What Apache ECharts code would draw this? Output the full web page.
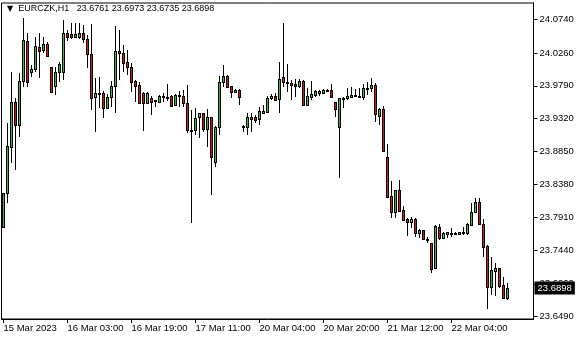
<!DOCTYPE html>
<html><head><meta charset="utf-8">
<script src="https://cdn.jsdelivr.net/npm/echarts@6/dist/echarts.min.js"></script>
<style>html,body{margin:0;padding:0;background:#fff}#c{width:580px;height:340px}</style>
</head><body><div id="c"></div>
<script>
const symbolName = 'EURCZK,H1';
const xTickLabels = ['15 Mar 2023','16 Mar 03:00','16 Mar 19:00','17 Mar 11:00','20 Mar 04:00','20 Mar 20:00','21 Mar 12:00','22 Mar 04:00'];
const yTickValues = [24.0740, 24.0260, 23.9790, 23.9320, 23.8850, 23.8380, 23.7910, 23.7440, 23.6960, 23.6490];
const yMin = 23.6457;
const yMax = 24.0973;
const emptySlots = 6;

const opens = [23.7776,23.8254,23.8920,23.9563,23.9230,23.9858,24.0430,23.9983,24.0026,24.0340,
24.0301,24.0383,24.0054,23.9791,23.9983,23.9991,24.0549,24.0530,24.0492,24.0492,
24.0540,24.0454,24.0240,23.9626,23.9687,23.9683,23.9477,23.9634,23.9791,24.0287,
24.0254,24.0126,24.0054,23.9863,23.9801,23.9691,23.9540,23.9611,23.9577,23.9563,
23.9634,23.9630,23.9644,23.9515,23.9644,23.9644,23.9540,23.9163,23.9158,23.9340,
23.9397,23.9168,23.9340,23.8705,23.9197,23.9848,23.9930,23.9787,23.9706,23.9730,
23.9215,23.9205,23.9311,23.9348,23.9311,23.9405,23.9420,23.9611,23.9644,23.9597,
23.9911,23.9848,23.9834,23.9816,23.9787,23.9863,23.9520,23.9634,23.9658,23.9683,
23.9683,23.9730,23.9730,23.9554,23.9197,23.9597,23.9611,23.9634,23.9648,23.9648,
23.9634,23.9754,23.9754,23.9801,23.9363,23.9458,23.8777,23.8215,23.7991,23.8301,
23.8015,23.7886,23.7848,23.7886,23.7691,23.7729,23.7605,23.7539,23.7182,23.7776,
23.7619,23.7672,23.7672,23.7682,23.7672,23.7682,23.7682,23.7800,23.7991,23.8125,
23.7811,23.7500,23.6919,23.7147,23.7182,23.6943,23.6761];
const highs = [23.8258,23.9254,23.9991,23.9611,23.9969,24.0755,24.0549,24.0087,24.0492,24.0540,
24.0492,24.0420,24.0063,24.0063,24.0134,24.0730,24.0587,24.0692,24.0692,24.0683,
24.0659,24.0516,24.0673,23.9897,23.9920,23.9720,23.9673,23.9863,24.0644,24.0587,
24.0373,24.0301,24.0111,23.9873,23.9848,23.9706,23.9706,23.9644,23.9587,23.9658,
23.9683,23.9816,23.9658,23.9673,23.9720,23.9730,23.9801,23.9444,23.9468,23.9405,
23.9405,23.9458,23.9348,23.9215,23.9930,24.0087,23.9940,23.9787,23.9748,23.9740,
23.9230,23.9397,23.9397,23.9373,23.9491,23.9515,23.9644,23.9673,23.9683,24.0134,
24.0683,24.0101,23.9873,23.9883,23.9891,23.9873,23.9754,23.9863,23.9730,23.9730,
23.9740,23.9740,23.9816,23.9563,23.9620,23.9626,23.9754,23.9777,23.9740,23.9754,
23.9816,23.9848,23.9897,23.9826,23.9468,23.9501,23.8958,23.8429,23.8301,23.8444,
23.8072,23.7896,23.7911,23.7896,23.7739,23.7729,23.7625,23.7539,23.7800,23.7811,
23.7705,23.7705,23.7753,23.7705,23.7705,23.7768,23.7825,23.8111,23.8182,23.8182,
23.7882,23.7515,23.7339,23.7253,23.7182,23.7062,23.6973];
const lows = [23.7758,23.8111,23.8682,23.8587,23.9062,23.9777,23.9777,23.9920,23.9991,23.9897,
24.0254,24.0206,23.9691,23.9658,23.9848,23.9873,24.0434,24.0454,24.0469,24.0454,
24.0397,24.0040,23.9444,23.9134,23.9468,23.9325,23.9468,23.9491,23.9397,23.9873,
23.9991,23.9944,23.9706,23.9563,23.9530,23.9148,23.9530,23.9373,23.9491,23.9548,
23.9563,23.9577,23.9491,23.9501,23.9491,23.9491,23.9111,23.7825,23.9087,23.9040,
23.9134,23.8920,23.8229,23.8634,23.9087,23.9777,23.9777,23.9611,23.9706,23.9515,
23.9134,23.9087,23.9134,23.9254,23.9230,23.9397,23.9405,23.9587,23.9577,23.9397,
23.9768,23.9706,23.9587,23.9634,23.9754,23.9515,23.9515,23.9587,23.9634,23.9644,
23.9673,23.9720,23.9626,23.9340,23.8477,23.9468,23.9587,23.9626,23.9626,23.9626,
23.9587,23.9658,23.9706,23.9277,23.9230,23.8862,23.8205,23.7896,23.7896,23.7991,
23.7862,23.7643,23.7753,23.7633,23.7611,23.7605,23.7539,23.7119,23.7167,23.7586,
23.7596,23.7611,23.7633,23.7658,23.7658,23.7658,23.7658,23.7786,23.7976,23.7800,
23.7348,23.6596,23.6800,23.6790,23.6896,23.6753,23.6735];
const closes = [23.8254,23.8930,23.9563,23.9230,23.9858,24.0444,23.9848,24.0030,24.0359,24.0291,
24.0383,24.0220,23.9706,23.9991,24.0101,24.0549,24.0492,24.0492,24.0530,24.0540,
24.0454,24.0240,23.9611,23.9683,23.9673,23.9477,23.9626,23.9791,24.0287,24.0254,
24.0111,24.0054,23.9848,23.9787,23.9540,23.9540,23.9691,23.9563,23.9583,23.9644,
23.9640,23.9626,23.9501,23.9658,23.9654,23.9540,23.9158,23.9158,23.9325,23.9397,
23.9168,23.9340,23.8777,23.9205,23.9840,23.9930,23.9777,23.9706,23.9734,23.9626,
23.9205,23.9340,23.9348,23.9301,23.9430,23.9430,23.9611,23.9644,23.9587,23.9883,
23.9848,23.9826,23.9801,23.9787,23.9863,23.9520,23.9644,23.9673,23.9720,23.9711,
23.9730,23.9726,23.9634,23.9454,23.9611,23.9616,23.9644,23.9658,23.9654,23.9640,
23.9754,23.9758,23.9801,23.9383,23.9458,23.8862,23.8205,23.7991,23.8301,23.8005,
23.7872,23.7848,23.7886,23.7691,23.7729,23.7605,23.7601,23.7167,23.7791,23.7619,
23.7682,23.7696,23.7682,23.7686,23.7696,23.7696,23.7811,23.7982,23.8125,23.7811,
23.7490,23.6919,23.7157,23.7190,23.6929,23.6753,23.6898];

const upColor = '#3cb83c';
const downColor = '#e01010';
const chart = echarts.init(document.getElementById('c'), null, {renderer: 'canvas', devicePixelRatio: 1});
const nSlots = opens.length + emptySlots;
const slots = Array.from({length: nSlots}, (_, i) => String(i));
const rows = opens.map((o, i) => [i, o, closes[i], lows[i], highs[i]]);
const last = opens.length - 1;
const font = 'Liberation Sans';
const showTick = (i) => i % 16 === 0 && (i / 16) < xTickLabels.length;
const headline = [opens[last], highs[last], lows[last], closes[last]].map(v => v.toFixed(4)).join(' ');

function renderCandle(params, api) {
  const i = api.value(0);
  const o = api.value(1), c = api.value(2), l = api.value(3), h = api.value(4);
  const pO = api.coord([i, o]);
  const pC = api.coord([i, c]);
  const pL = api.coord([i, l]);
  const pH = api.coord([i, h]);
  const px = Math.floor(pO[0]);
  const top = Math.round(Math.min(pO[1], pC[1]));
  const bot = Math.max(Math.round(Math.max(pO[1], pC[1])), top + 1);
  const hi = Math.round(pH[1]);
  const lo = Math.max(Math.round(pL[1]), hi + 1);
  const children = [
    {type: 'rect', shape: {x: px, y: hi, width: 1, height: lo - hi}, style: {fill: '#000'}},
    {type: 'rect', shape: {x: px - 1, y: top, width: 3, height: bot - top + 1}, style: {fill: '#000'}}
  ];
  if (bot - top >= 2) {
    children.push({type: 'rect', shape: {x: px, y: top + 1, width: 1, height: bot - top - 1},
      style: {fill: c >= o ? upColor : downColor}});
  }
  return {type: 'group', children};
}

chart.setOption({
  animation: false,
  backgroundColor: '#fff',
  title: {
    left: 7, top: 4, padding: 0,
    text: '{tri|▼}  ' + symbolName + '   ' + headline,
    textStyle: {fontFamily: font, fontSize: 9, fontWeight: 'normal', color: '#000',
      rich: {tri: {fontSize: 8, color: '#000', fontFamily: 'DejaVu Sans'}}}
  },
  grid: {left: 1.5, top: 3, width: 532, height: 316, show: true, borderColor: '#000', borderWidth: 1, backgroundColor: '#fff'},
  xAxis: {
    type: 'category', data: slots, boundaryGap: true,
    axisLine: {show: true, lineStyle: {color: '#000', width: 1}},
    axisTick: {show: true, alignWithLabel: true, interval: (i) => showTick(i), length: 4, lineStyle: {color: '#000'}},
    axisLabel: {interval: (i) => showTick(i), formatter: (v, i) => xTickLabels[i / 16] || '', align: 'left',
      margin: 4, color: '#000', fontFamily: font, fontSize: 9.5},
    splitLine: {show: false}
  },
  yAxis: {
    type: 'value', position: 'right', min: yMin, max: yMax, scale: true,
    axisLine: {show: true, lineStyle: {color: '#000'}},
    axisTick: {show: true, length: 4, customValues: yTickValues, lineStyle: {color: '#000'}},
    axisLabel: {customValues: yTickValues, formatter: v => v.toFixed(4), margin: 6, color: '#000', fontFamily: font, fontSize: 9.5},
    splitLine: {show: false}
  },
  series: [{
    type: 'custom', data: rows, encode: {x: 0, y: [1, 2, 3, 4]},
    renderItem: renderCandle, clip: true,
    markLine: {
      silent: true, symbol: 'none', animation: false,
      data: [{yAxis: closes[last]}],
      lineStyle: {color: 'rgba(0,0,0,0)', width: 1, type: 'solid'},
      label: {show: true, position: 'end', distance: 1, formatter: () => closes[last].toFixed(4),
        backgroundColor: '#000', color: '#fff', padding: [2, 3, 1, 3], fontFamily: font, fontSize: 9.5}
    }
  }]
});
</script>
</body></html>
